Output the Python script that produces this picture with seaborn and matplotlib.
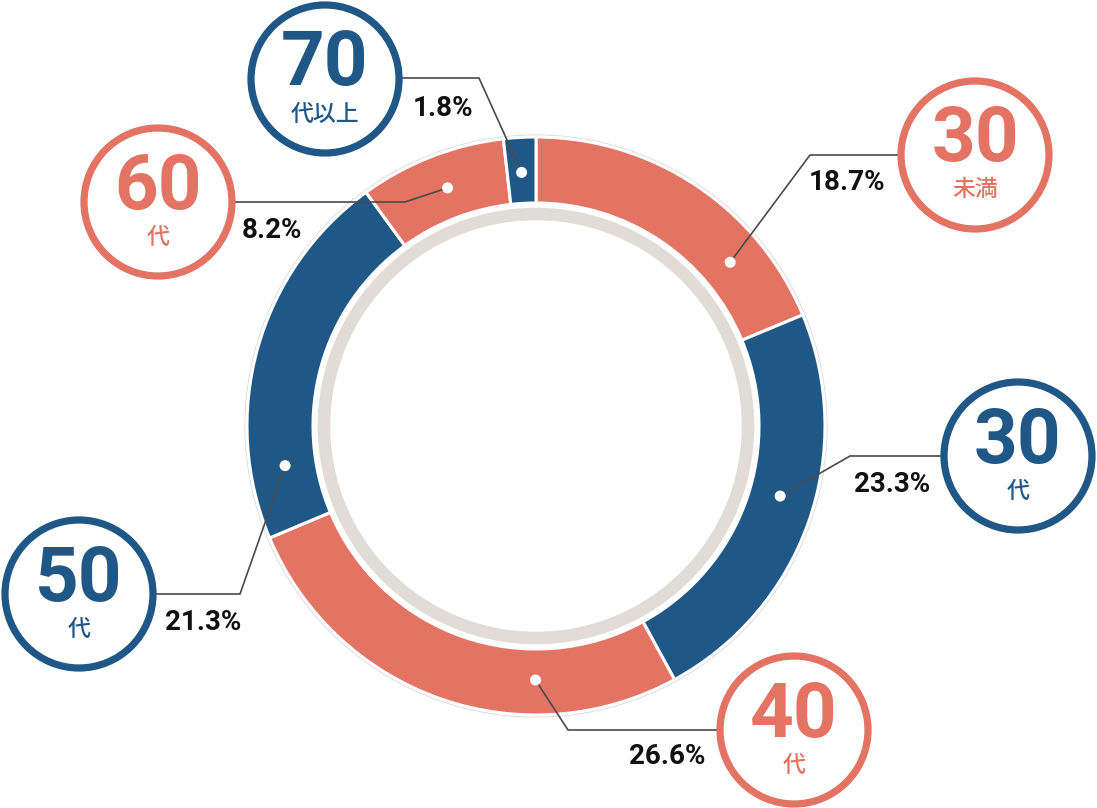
import numpy as np
import seaborn as sns
import matplotlib.pyplot as plt
from matplotlib.patches import Circle

# data
age_groups = ["30未満", "30代", "40代", "50代", "60代", "70代以上"]
badge_numbers = ["30", "30", "40", "50", "60", "70"]
badge_suffix = ["未満", "代", "代", "代", "代", "代以上"]
shares = [18.7, 23.3, 26.6, 21.3, 8.2, 1.8]

RED = "#E37363"
BLUE = "#1F5886"
GRAY_RING = "#E1DDD6"
LINE = "#4a4a4a"
colors = [RED, BLUE, RED, BLUE, RED, BLUE]

W, H = 1097, 808
CX, CY = 536, 426
R_OUT, R_IN = 289, 223

# layout (pixel coords, y down)
dot_frac = [0.74, 0.46, 0.30, 0.18, 0.53, 0.5]
elbows = [(810, 155), (850, 456), (568, 730), (240, 594), (405, 202), (479, 78)]
badges = [(975, 155), (1018, 456), (794, 730), (79, 594), (158, 202), (325, 79)]
pct_pos = [(847, 182), (892, 485), (667, 757), (203, 623), (272, 230), (443, 108)]


def fy(y):
    return H - y


sns.set_theme(style="white")
plt.rcParams["font.family"] = ["Roboto", "Noto Sans CJK JP", "DejaVu Sans"]

fig = plt.figure(figsize=(W / 100, H / 100), dpi=100)
ax = fig.add_axes([0, 0, 1, 1])

# faint outline + donut
ax.add_patch(Circle((CX, fy(CY)), R_OUT + 2, facecolor="none", edgecolor="#dddddd", lw=0.8, zorder=1))
ax.pie(shares, colors=colors, startangle=90, counterclock=False,
       center=(CX, fy(CY)), radius=R_OUT, frame=True,
       wedgeprops=dict(width=R_OUT - R_IN, edgecolor="white", linewidth=2.2))
ax.set_xlim(0, W)
ax.set_ylim(0, H)
ax.set_aspect("equal")
ax.axis("off")

# inner gray ring
ax.add_patch(Circle((CX, fy(CY)), 212, facecolor="none", edgecolor=GRAY_RING, lw=9, zorder=2))

total = sum(shares)
start = 0.0
for i, val in enumerate(shares):
    frac = (start + dot_frac[i] * val) / total
    ang = np.deg2rad(90 - frac * 360)
    r_dot = (R_OUT + R_IN) / 2 - 2
    dx = CX + r_dot * np.cos(ang)
    dy = fy(CY) + r_dot * np.sin(ang)
    start += val

    ex, ey = elbows[i]
    bx, by = badges[i]
    ax.plot([dx, ex, bx], [dy, fy(ey), fy(ey)], color=LINE, lw=1.2, zorder=4,
            solid_joinstyle="miter")
    ax.add_patch(Circle((dx, dy), 5.5, facecolor="white", edgecolor="none", zorder=5))

    col = colors[i]
    ax.add_patch(Circle((bx, fy(by)), 74, facecolor="white", edgecolor=col, lw=5.2, zorder=6))
    ax.text(bx, fy(by) + 14, badge_numbers[i], ha="center", va="center",
            fontsize=55, fontweight="bold", color=col, zorder=7)
    ax.text(bx, fy(by) - 35, badge_suffix[i], ha="center", va="center",
            fontsize=16.5, fontweight="medium", color=col, zorder=7,
            family=["Noto Sans CJK JP", "DejaVu Sans"])

    px, py = pct_pos[i]
    ax.text(px, fy(py), f"{val:.1f}%", ha="center", va="center",
            fontsize=20, fontweight="bold", color="#111111", zorder=7)

fig.savefig("out.png", dpi=100, facecolor="white")
